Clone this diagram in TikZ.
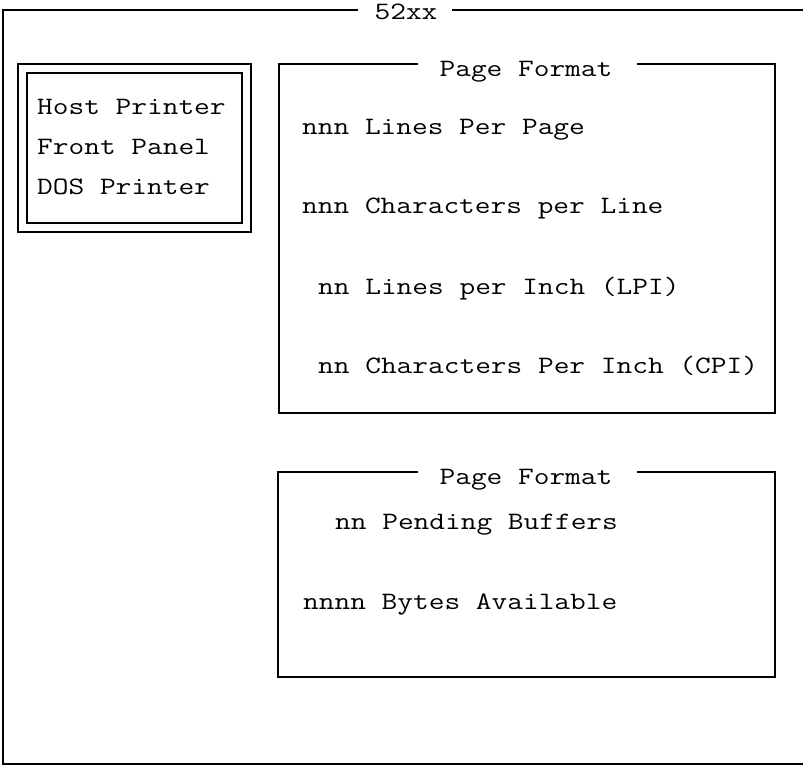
\documentclass[tikz,border=0pt]{standalone}
\usepackage{fontspec}
\newfontfamily\cour[FakeStretch=1.22]{Latin Modern Mono}
\tikzset{
  txt/.style={anchor=base west, inner sep=0pt, font=\cour\fontsize{25}{30}\selectfont},
  ttl/.style={anchor=base, inner sep=0pt, font=\cour\fontsize{25}{30}\selectfont},
  frame/.style={line width=1.7pt, line join=miter},
  heavy/.style={line width=2.6pt}
}
\begin{document}
\begin{tikzpicture}[x=1pt,y=-1pt]
\useasboundingbox (0,0) rectangle (803,770);
% outer frame (right side beyond the picture)
\node[ttl] (t52) at (406,20) {52xx};
\coordinate (oa) at (358,10);
\coordinate (ob) at (452,10);
\draw[frame] (oa) -- (3,10) -- (3,764) -- (803,764);
\draw[frame] (ob) -- (803,10);
% double box
\draw[frame] (18,64) rectangle (251,232);
\draw[heavy] (27,73) rectangle (242,223);
\node[txt] (host) at (37,115) {Host Printer};
\node[txt] (front) at (37,155) {Front Panel};
\node[txt] (dos) at (37,195) {DOS Printer};
% Page Format box 1
\node[ttl] (pf1) at (526,77) {Page Format};
\draw[frame] (418,64) -- (279,64) -- (279,413) -- (775,413) -- (775,64) -- (637,64);
\node[txt] (l1) at (302,135) {nnn Lines Per Page};
\node[txt] (l2) at (302,214) {nnn Characters per Line};
\node[txt] (l3) at (318,294) {nn Lines per Inch (LPI)};
\node[txt] (l4) at (318,373) {nn Characters Per Inch (CPI)};
% Page Format box 2
\node[ttl] (pf2) at (526,484) {Page Format};
\draw[frame] (418,472) -- (278,472) -- (278,677) -- (775,677) -- (775,472) -- (637,472);
\node[txt] (b1) at (335,529) {nn Pending Buffers};
\node[txt] (b2) at (303,609) {nnnn Bytes Available};
\end{tikzpicture}
\end{document}
